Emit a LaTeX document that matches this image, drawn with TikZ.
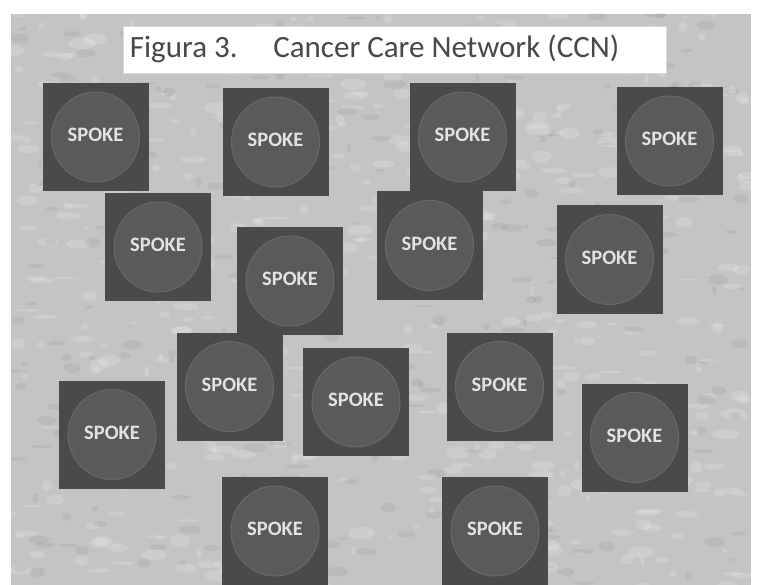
\documentclass[tikz,border=0pt]{standalone}
\usepackage{fontspec}
\setmainfont{Carlito}
\definecolor{bggray}{RGB}{196,196,196}
\definecolor{boxgray}{RGB}{74,74,74}
\definecolor{circgray}{RGB}{90,90,90}
\definecolor{ringgray}{RGB}{104,104,104}
\definecolor{titlegray}{RGB}{72,72,72}
\definecolor{spoketext}{RGB}{226,226,226}
\begin{document}
\begin{tikzpicture}[x=1pt,y=-1pt,
  spokebox/.style={fill=boxgray, draw=none, minimum width=106pt, minimum height=108pt, inner sep=0pt, outer sep=0pt},
  spokecirc/.style={fill=circgray, draw=ringgray, line width=1pt},
  spokelabel/.style={text=spoketext, font=\fontsize{20.5}{20.5}\selectfont\bfseries, inner sep=0pt},
  titlebox/.style={fill=white, draw=white!85!black, line width=0.6pt, minimum width=543pt, minimum height=47pt, inner sep=0pt},
  titletext/.style={text=titlegray, font=\fontsize{31}{31}\selectfont, inner sep=0pt, anchor=west}]
\useasboundingbox (0,0) rectangle (757,585);
\fill[white] (0,0) rectangle (757,585);
% textured background
\fill[bggray] (11,14) rectangle (751,585);
\begin{scope}
\clip (11,14) rectangle (751,585);
\pgfmathsetseed{11}
\foreach \i in {1,...,500}{
  \pgfmathsetmacro\px{11+rnd*740}
  \pgfmathsetmacro\py{14+rnd*571}
  \pgfmathsetmacro\rx{2+rnd*12}
  \pgfmathsetmacro\ry{1+rnd*5}
  \fill[white, opacity=0.16] (\px,\py) ellipse ({\rx} and {\ry});
}
\foreach \i in {1,...,300}{
  \pgfmathsetmacro\px{11+rnd*740}
  \pgfmathsetmacro\py{14+rnd*571}
  \pgfmathsetmacro\rx{2+rnd*10}
  \pgfmathsetmacro\ry{1+rnd*4}
  \fill[black, opacity=0.05] (\px,\py) ellipse ({\rx} and {\ry});
}
\end{scope}
% title
\node[titlebox] (title) at (394.5,49.5) {};
\node[titletext] (titlelabel) at ([xshift=7pt,yshift=1pt]title.west) {Figura 3.\hspace{1.15em}Cancer Care Network (CCN)};
% spokes
\begin{scope}
\clip (11,14) rectangle (751,585);
\foreach \n/\cx/\cy in {1/95.5/137, 2/275.5/142, 3/462.5/137, 4/669.5/141,
  5/158/247, 6/290/281, 7/429.5/245.5, 8/609.5/259.5,
  9/229.5/386.5, 10/356/402, 11/499.5/386.5, 12/112/434.5,
  13/634.5/437.5, 14/275/531, 15/495/531}{
  \node[spokebox] (s\n) at (\cx,\cy) {};
  \draw[spokecirc] (s\n.center) ellipse (44 and 45);
  \node[spokelabel] (t\n) at ([yshift=2pt]s\n.center) {SPOKE};
}
\end{scope}
\end{tikzpicture}
\end{document}
